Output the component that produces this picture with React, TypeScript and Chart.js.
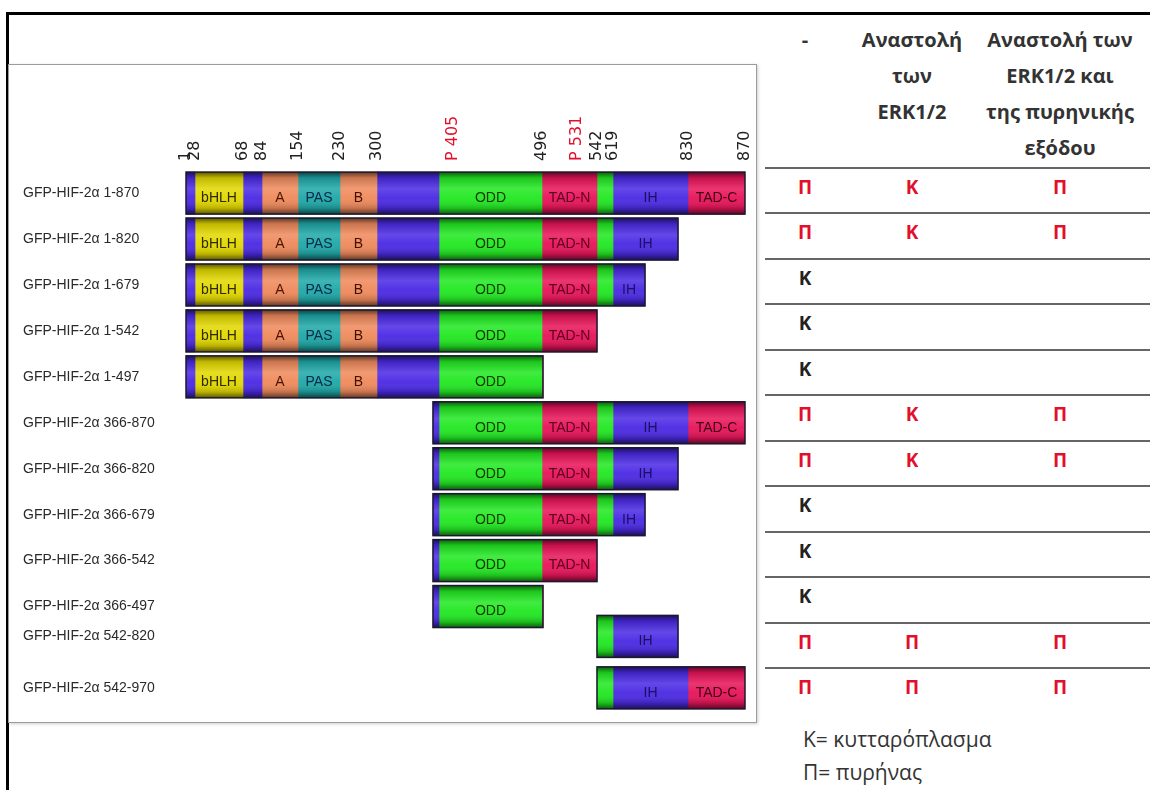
import React, { useEffect, useRef } from 'react';
import { Chart, registerables } from 'chart.js';

Chart.register(...registerables);

// ---------- Data ----------
const CONSTRUCTS = [
  'GFP-HIF-2α 1-870',
  'GFP-HIF-2α 1-820',
  'GFP-HIF-2α 1-679',
  'GFP-HIF-2α 1-542',
  'GFP-HIF-2α 1-497',
  'GFP-HIF-2α 366-870',
  'GFP-HIF-2α 366-820',
  'GFP-HIF-2α 366-679',
  'GFP-HIF-2α 366-542',
  'GFP-HIF-2α 366-497',
  'GFP-HIF-2α 542-820',
  'GFP-HIF-2α 542-970',
];
const CONSTRUCT_START = [1, 1, 1, 1, 1, 366, 366, 366, 366, 366, 542, 542];
const CONSTRUCT_END = [870, 820, 679, 542, 497, 870, 820, 679, 542, 497, 820, 970];
const ROW_POSITIONS = [0, 1, 2, 3, 4, 5, 6, 7, 8, 9, 9.65, 10.77];

const DOMAIN_NAMES = ['', 'bHLH', '', 'A', 'PAS', 'B', '', 'ODD', 'TAD-N', '', 'IH', 'TAD-C'];
const DOMAIN_START = [1, 28, 68, 84, 154, 230, 300, 370, 496, 542, 619, 830];
const DOMAIN_END = [28, 68, 84, 154, 230, 300, 370, 496, 542, 619, 830, 870];
const DOMAIN_KIND = ['linker', 'bhlh', 'linker', 'pasA', 'pas', 'pasB', 'linker', 'odd', 'tad', 'odd', 'linker', 'tadc'];

const TICK_RESIDUES = [1, 28, 68, 84, 154, 230, 300, 405, 496, 531, 542, 619, 830, 870];
const TICK_LABELS = ['1', '28', '68', '84', '154', '230', '300', 'P 405', '496', 'P 531', '542', '619', '830', '870'];
const TICK_IS_SITE = [false, false, false, false, false, false, false, true, false, true, false, false, false, false];

// schematic (non-linear) residue map used by the drawing
const MAP_RESIDUES = [1, 28, 68, 84, 154, 230, 300, 366, 370, 405, 496, 531, 542, 619, 679, 820, 830, 870];
const MAP_UNITS = [0, 9, 57, 76, 112, 154, 191, 247, 253, 267, 356, 391, 411, 427, 459, 492, 502, 559];

const TABLE_HEADERS = [['-'], ['Αναστολή', 'των', 'ERK1/2'], ['Αναστολή των', 'ERK1/2 και', 'της πυρηνικής', 'εξόδου']];
const CELL_CONTROL = ['Π', 'Π', 'Κ', 'Κ', 'Κ', 'Π', 'Π', 'Κ', 'Κ', 'Κ', 'Π', 'Π'];
const CELL_ERK = ['Κ', 'Κ', '', '', '', 'Κ', 'Κ', '', '', '', 'Π', 'Π'];
const CELL_ERK_EXPORT = ['Π', 'Π', '', '', '', 'Π', 'Π', '', '', '', 'Π', 'Π'];
const LEGEND_LINES = ['Κ= κυτταρόπλασμα', 'Π= πυρήνας'];

// ---------- Styles ----------
const KIND_COLORS: Record<string, string> = {
  linker: '#4b2ae4',
  bhlh: '#e2d800',
  pasA: '#ef8a5c',
  pas: '#1fa8a8',
  pasB: '#ef8a5c',
  odd: '#22e822',
  tad: '#e8145a',
  tadc: '#e8145a',
};
const KIND_TEXT: Record<string, string> = {
  linker: '#1a1060',
  bhlh: '#2e2a00',
  pasA: '#4a1500',
  pas: '#0a2848',
  pasB: '#401000',
  odd: '#143800',
  tad: '#5a0024',
  tadc: '#40001a',
};
const RED = '#e2102c';

function toMap(r: number): number {
  if (r <= MAP_RESIDUES[0]) return MAP_UNITS[0];
  for (let i = 1; i < MAP_RESIDUES.length; i++) {
    if (r <= MAP_RESIDUES[i]) {
      const r0 = MAP_RESIDUES[i - 1], r1 = MAP_RESIDUES[i];
      const u0 = MAP_UNITS[i - 1], u1 = MAP_UNITS[i];
      return u0 + ((r - r0) / (r1 - r0)) * (u1 - u0);
    }
  }
  return MAP_UNITS[MAP_UNITS.length - 1];
}

const barStylePlugin = {
  id: 'barStyle',
  afterDatasetsDraw(chart: any) {
    const ctx = chart.ctx;
    const boxes: Record<number, { l: number; r: number; t: number; b: number }> = {};
    chart.data.datasets.forEach((ds: any, di: number) => {
      const meta = chart.getDatasetMeta(di);
      meta.data.forEach((el: any, j: number) => {
        const p = el.getProps(['x', 'y', 'base', 'height'], true);
        const l = Math.min(p.x, p.base);
        const r = Math.max(p.x, p.base);
        const t = p.y - p.height / 2;
        const b = p.y + p.height / 2;
        const g = ctx.createLinearGradient(0, t, 0, b);
        g.addColorStop(0, 'rgba(0,0,0,0.6)');
        g.addColorStop(0.14, 'rgba(0,0,0,0.15)');
        g.addColorStop(0.4, 'rgba(255,255,255,0.14)');
        g.addColorStop(0.62, 'rgba(255,255,255,0.04)');
        g.addColorStop(0.86, 'rgba(0,0,0,0.18)');
        g.addColorStop(1, 'rgba(0,0,0,0.6)');
        ctx.save();
        ctx.fillStyle = g;
        ctx.fillRect(l, t, r - l, b - t);
        const name = DOMAIN_NAMES[di];
        if (name && r - l > 30) {
          ctx.fillStyle = KIND_TEXT[DOMAIN_KIND[di]];
          ctx.font = '14px "Liberation Sans", Arial, sans-serif';
          ctx.textAlign = 'center';
          ctx.textBaseline = 'middle';
          ctx.fillText(name, (l + r) / 2, p.y + 5);
        }
        ctx.restore();
        const row = ds.data[j].row;
        const bx = boxes[row];
        if (!bx) boxes[row] = { l, r, t, b };
        else {
          bx.l = Math.min(bx.l, l);
          bx.r = Math.max(bx.r, r);
        }
      });
    });
    ctx.save();
    ctx.strokeStyle = '#1c1830';
    ctx.lineWidth = 1.5;
    Object.values(boxes).forEach((bx) => {
      ctx.strokeRect(bx.l, bx.t, bx.r - bx.l, bx.b - bx.t);
    });
    ctx.restore();
  },
};

function DomainChart() {
  const ref = useRef<HTMLCanvasElement | null>(null);
  useEffect(() => {
    if (!ref.current) return;
    const datasets = DOMAIN_NAMES.map((name, di) => {
      const data: any[] = [];
      CONSTRUCTS.forEach((_, i) => {
        const s = Math.max(DOMAIN_START[di], CONSTRUCT_START[i]);
        const e = Math.min(DOMAIN_END[di], CONSTRUCT_END[i]);
        if (s < e) data.push({ x: [toMap(s), toMap(e)], y: ROW_POSITIONS[i], row: i });
      });
      return {
        label: name || 'linker',
        data,
        backgroundColor: KIND_COLORS[DOMAIN_KIND[di]],
        borderWidth: 0,
        grouped: false,
        barThickness: 42,
      };
    });
    const chart = new Chart(ref.current, {
      type: 'bar',
      data: { datasets } as any,
      options: {
        indexAxis: 'y',
        responsive: false,
        animation: false,
        devicePixelRatio: 1,
        layout: { autoPadding: false, padding: { left: 15, right: 9, top: 0, bottom: 0 } },
        plugins: { legend: { display: false }, tooltip: { enabled: false } },
        scales: {
          x: {
            type: 'linear',
            position: 'top',
            min: 0,
            max: 559,
            offset: false,
            grid: { display: false, drawTicks: false },
            border: { display: false },
            afterBuildTicks: (scale: any) => {
              scale.ticks = TICK_RESIDUES.map((r) => ({ value: toMap(r) }));
            },
            afterFit: (scale: any) => {
              scale.height = 102;
              scale.paddingLeft = 0;
              scale.paddingRight = 0;
            },
            ticks: {
              autoSkip: false,
              minRotation: 90,
              maxRotation: 90,
              padding: 6,
              labelOffset: 19,
              font: { family: '"DejaVu Sans", sans-serif', size: 16 },
              color: (c: any) => (TICK_IS_SITE[c.index] ? RED : '#222'),
              callback: (_v: any, i: number) => TICK_LABELS[i],
            },
          },
          y: {
            type: 'linear',
            reverse: true,
            offset: false,
            min: -0.568,
            max: 11.535,
            grid: { display: false, drawTicks: false, offset: false },
            border: { display: false },
            afterBuildTicks: (scale: any) => {
              scale.ticks = ROW_POSITIONS.map((v) => ({ value: v }));
            },
            afterFit: (scale: any) => {
              scale.width = 163;
              scale.paddingTop = 0;
              scale.paddingBottom = 0;
            },
            ticks: {
              autoSkip: false,
              crossAlign: 'far',
              padding: 0,
              font: { family: '"Liberation Sans", Arial, sans-serif', size: 14 },
              color: '#2a2a2a',
              callback: (_v: any, i: number) => CONSTRUCTS[i],
            },
          },
        },
      } as any,
      plugins: [barStylePlugin],
    });
    return () => chart.destroy();
  }, []);
  return <canvas ref={ref} width={746} height={658} style={{ position: 'absolute', left: 8, top: 65, width: 746, height: 658 }} />;
}

const COL_CENTERS = [805, 912, 1060];
const TABLE_TOP = 168;
const ROW_H = 45.45;

export default function App() {
  const cols = [CELL_CONTROL, CELL_ERK, CELL_ERK_EXPORT];
  return (
    <div style={{ position: 'absolute', left: 0, top: 0, width: 1150, height: 790, overflow: 'hidden', background: '#fff', fontFamily: '"Open Sans", "Noto Sans", sans-serif', color: '#333' }}>
      <div style={{ position: 'absolute', left: 6, top: 12, width: 1300, height: 900, borderLeft: '3px solid #000', borderTop: '3px solid #000' }} />
      <div style={{ position: 'absolute', left: 8, top: 64, width: 749, height: 659, boxSizing: 'border-box', border: '1.5px solid #9c9c9c', boxShadow: '1px 1px 3px rgba(0,0,0,0.2)' }} />
      <DomainChart />
      {TABLE_HEADERS.map((lines, ci) => (
        <div key={'h' + ci} style={{ position: 'absolute', left: COL_CENTERS[ci] - 90, width: 180, top: 22, textAlign: 'center', fontWeight: 700, fontSize: 20, lineHeight: '36px', whiteSpace: 'nowrap' }}>
          {lines.map((l, k) => (
            <div key={k}>{l}</div>
          ))}
        </div>
      ))}
      {CONSTRUCTS.map((_, i) => (
        <div key={'l' + i} style={{ position: 'absolute', left: 765, width: 400, top: TABLE_TOP + i * ROW_H - 1, height: 2, background: '#666' }} />
      ))}
      {CONSTRUCTS.map((_, i) =>
        cols.map((col, ci) =>
          col[i] ? (
            <div key={'c' + i + '-' + ci} style={{ position: 'absolute', left: COL_CENTERS[ci] - 20, width: 40, top: TABLE_TOP + i * ROW_H + 19 - 14, height: 28, lineHeight: '28px', textAlign: 'center', fontWeight: 700, fontSize: 19, color: CELL_CONTROL[i] === 'Π' ? RED : '#222' }}>
              {col[i]}
            </div>
          ) : null
        )
      )}
      <div style={{ position: 'absolute', left: 803, top: 723, fontSize: 21, lineHeight: '33px', whiteSpace: 'nowrap', color: '#333' }}>
        {LEGEND_LINES.map((l, k) => (
          <div key={k}>{l}</div>
        ))}
      </div>
    </div>
  );
}
